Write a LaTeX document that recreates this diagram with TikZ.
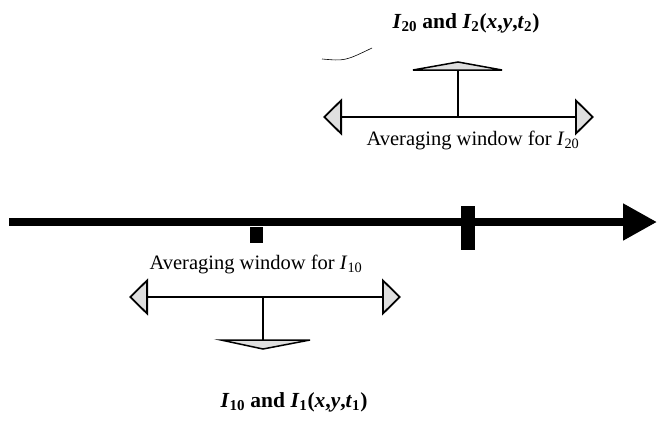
\documentclass[tikz,border=0pt]{standalone}
\usepackage{fontspec}
\setmainfont{Liberation Serif}
\usetikzlibrary{arrows.meta}
\tikzset{
  winline/.style={line width=1.8pt,
    {Triangle[length=19pt,width=37pt,fill=gray!25]}-{Triangle[length=19pt,width=37pt,fill=gray!25]}},
  stem/.style={line width=1.8pt},
  flattri/.style={fill=gray!25,draw=black,line width=1.5pt,line join=miter},
  mainarrow/.style={line width=8pt,-{Triangle[length=34pt,width=35pt]}},
  marker/.style={fill=black,draw=none},
  lbl/.style={inner sep=0pt,font=\fontsize{20.5}{22}\selectfont},
  ttl/.style={inner sep=0pt,font=\fontsize{21.5}{23}\selectfont\bfseries}
}
\begin{document}
\begin{tikzpicture}[x=1pt,y=-1pt]
\useasboundingbox (0,0) rectangle (665,421);
% main time axis
\coordinate (a0) at (9,222);
\coordinate (a1) at (657,222);
\draw[mainarrow] (a0) -- (a1);
\fill[marker] (250,227) rectangle (263,243);
\fill[marker] (461,206) rectangle (475,250);
% upper window
\coordinate (uL) at (323,117);
\coordinate (uR) at (594,117);
\coordinate (uS) at (458,117);
\coordinate (uT) at (458,70);
\draw[winline] (uL) -- (uR);
\draw[stem] (uS) -- (uT);
\draw[flattri] (413,70) -- (502,70) -- (458,62) -- cycle;
\node[lbl] (ulab) at (473,140) {Averaging window for \textit{I}\textsubscript{20}};
\node[ttl] (utitle) at (466,23) {\textit{I}\textsubscript{20} and \textit{I}\textsubscript{2}(\textit{x},\textit{y},\textit{t}\textsubscript{2})};
\coordinate (s0) at (322,59);
\coordinate (s1) at (372,48);
\draw[line width=0.6pt] (s0) .. controls (345,61) .. (s1);
% lower window
\coordinate (lL) at (129,297);
\coordinate (lR) at (401,297);
\coordinate (lS) at (263,297);
\coordinate (lT) at (263,340);
\draw[winline] (lL) -- (lR);
\draw[stem] (lS) -- (lT);
\draw[flattri] (221,340) -- (310,340) -- (263,349) -- cycle;
\node[lbl] (llab) at (256,264) {Averaging window for \textit{I}\textsubscript{10}};
\node[ttl] (ltitle) at (294,402) {\textit{I}\textsubscript{10} and \textit{I}\textsubscript{1}(\textit{x},\textit{y},\textit{t}\textsubscript{1})};
\end{tikzpicture}
\end{document}
